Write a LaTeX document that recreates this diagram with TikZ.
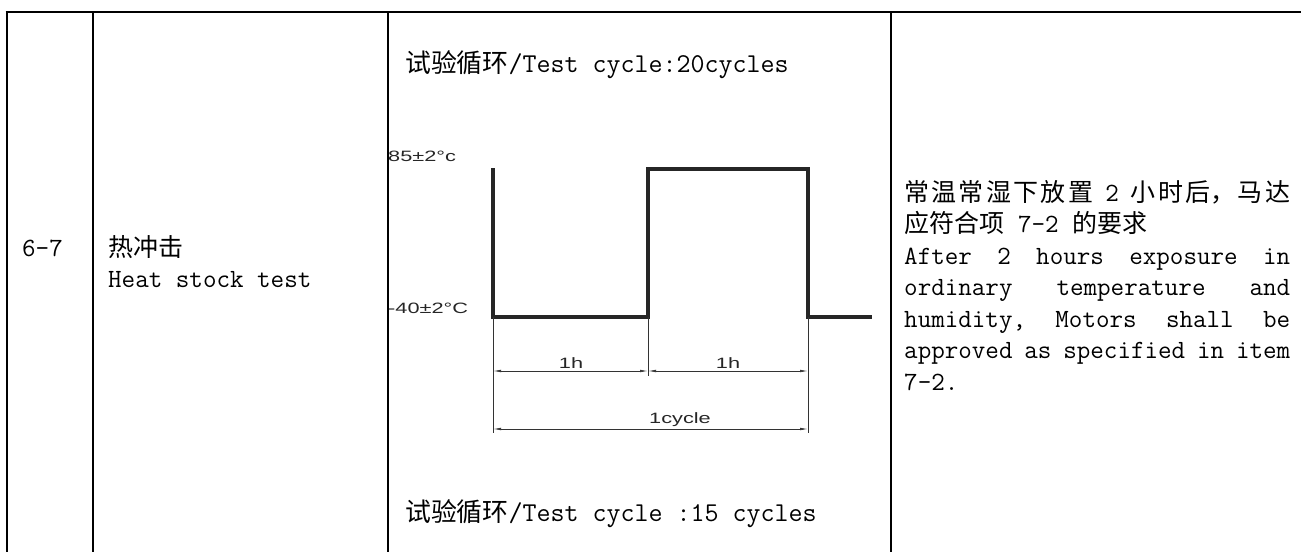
\documentclass[tikz,border=0pt]{standalone}
\usepackage{fontspec}
\setmainfont{Latin Modern Mono}
\newfontfamily\cjk[Scale=0.95]{Noto Sans CJK SC}
\newfontfamily\cad[FakeStretch=1.45]{Liberation Sans}
\usetikzlibrary{positioning, arrows.meta}
\newcommand{\fillline}[1]{\hbox to 386pt{#1}}

\tikzset{
    rule/.style={line width=2.6pt, black},
    wave/.style={line width=3.6pt, black!85, line join=miter},
    dimline/.style={line width=0.7pt, black!80},
    dimarrow/.style={dimline, {Latex[length=8pt,width=2.6pt]}-{Latex[length=8pt,width=2.6pt]}},
    celltext/.style={inner sep=0pt, anchor=base west, font=\fontsize{26.3}{31.5}\selectfont},
    cadtext/.style={inner sep=0pt, anchor=base, font=\cad\fontsize{15}{15}\selectfont, text=black!85},
}

\begin{document}
\begin{tikzpicture}[x=1pt, y=-1pt]
    \useasboundingbox (0,0) rectangle (1301,552);
    % table rules
    \coordinate (TL) at (5.7,12);
    \coordinate (TR) at (1301,12);
    \draw[rule] (TL) -- (TR);
    \foreach \cx in {7,93,388,891}
        \draw[rule] (\cx,12) -- (\cx,552);
    % first two columns
    \node[celltext] (item) at (22,256) {6-7};
    \node[celltext] (namecn) at (108,256) {\cjk 热冲击};
    \node[celltext] (nameen) at (108,287) {Heat stock test};
    % test cycles
    \node[celltext, font=\fontsize{27.2}{31.5}\selectfont] (cycletop) at (405,72) {{\cjk 试验循环}/Test cycle:20cycles};
    \node[celltext, font=\fontsize{27.2}{31.5}\selectfont] (cyclebot) at (405,521) {{\cjk 试验循环}/Test cycle :15 cycles};
    % temperature profile
    \coordinate (W0) at (493,168);
    \coordinate (W1) at (493,317);
    \coordinate (W2) at (648,317);
    \coordinate (W3) at (648,169);
    \coordinate (W4) at (808,169);
    \coordinate (W5) at (808,317);
    \coordinate (W6) at (872,317);
    \draw[wave] (W0) -- (W1) -- (W2) -- (W3) -- (W4) -- (W5) -- (W6);
    \node[cadtext, anchor=west] (hot) at (388,156) {85±2°c};
    \node[cadtext, anchor=west] (cold) at (388,308) {-40±2°C};
    % dimensions
    \coordinate (E1) at (493,433);
    \coordinate (E2) at (648,376);
    \coordinate (E3) at (808,433);
    \draw[dimline] (W1) -- (E1);
    \draw[dimline] (W2) -- (E2);
    \draw[dimline] (W5) -- (E3);
    \coordinate (D1) at (493,371);
    \coordinate (D2) at (648,371);
    \coordinate (D3) at (808,371);
    \coordinate (C1) at (493,429);
    \coordinate (C3) at (808,429);
    \draw[dimarrow] (D1) -- (D2);
    \draw[dimarrow] (D2) -- (D3);
    \draw[dimarrow] (C1) -- (C3);
    \node[cadtext] (lowtime) at (571,368) {1h};
    \node[cadtext] (hightime) at (728,368) {1h};
    \node[cadtext] (cycle) at (680,423) {1cycle};
    % requirement
    \node[celltext] (req1) at (904,201) {\fillline{{\cjk 常\hfill 温\hfill 常\hfill 湿\hfill 下\hfill 放\hfill 置}\hspace{12pt}2\hspace{12pt}{\cjk 小\hfill 时\hfill 后，\hfill 马\hfill 达}}};
    \node[celltext] (req2) at (904,232.5) {{\cjk 应符合项}\hspace{14pt}7-2\hspace{14pt}{\cjk 的要求}};
    \node[celltext] (req3) at (904,264) {\fillline{After\hfill2\hfill hours\hfill exposure\hfill in}};
    \node[celltext] (req4) at (904,295.5) {\fillline{ordinary\hfill temperature\hfill and}};
    \node[celltext] (req5) at (904,327) {\fillline{humidity,\hfill Motors\hfill shall\hfill be}};
    \node[celltext] (req6) at (904,358.5) {\fillline{approved\hss as\hss specified\hss in\hss item}};
    \node[celltext] (req7) at (904,390) {7-2.};
\end{tikzpicture}
\end{document}
